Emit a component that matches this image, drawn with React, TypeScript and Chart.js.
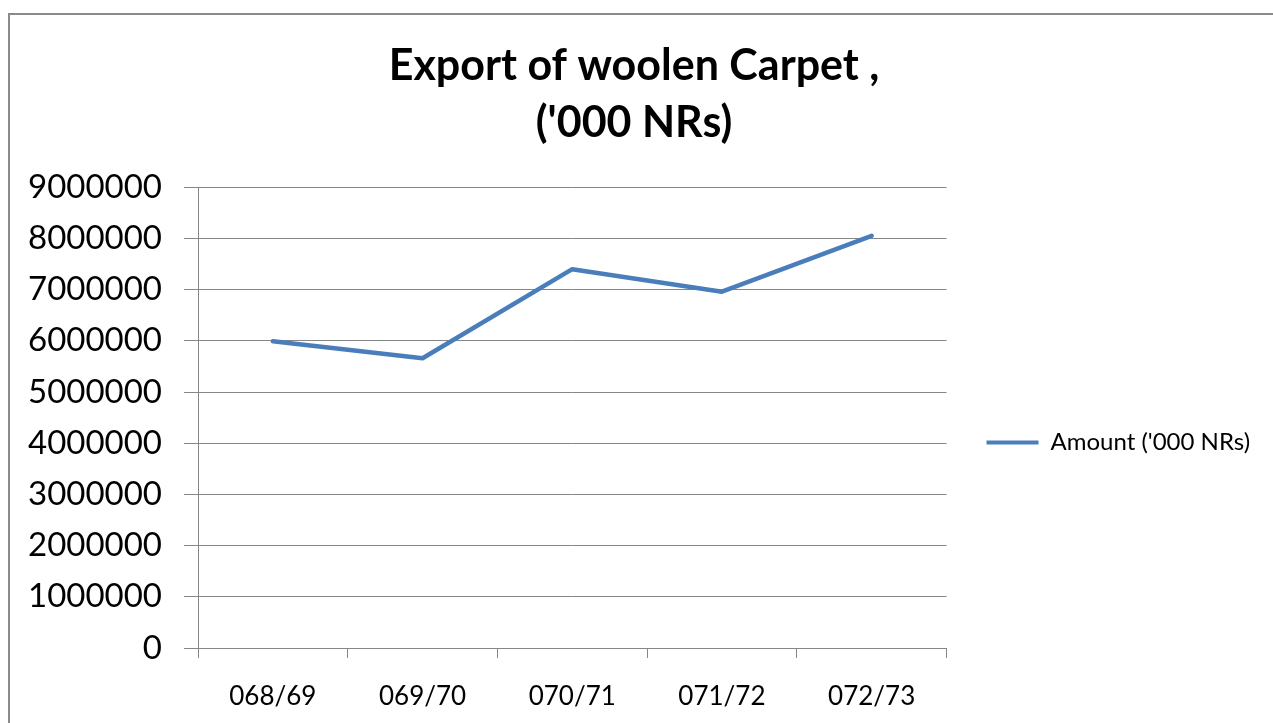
import React, { useEffect, useRef } from 'react';
import { Chart, registerables } from 'chart.js';

Chart.register(...registerables);

const categories = ['068/69', '069/70', '070/71', '071/72', '072/73'];
const amounts = [5990000, 5660000, 7400000, 6960000, 8050000];
const seriesLabel = "Amount ('000 NRs)";
const titleLines = ['Export of woolen Carpet ,', "('000 NRs)"];
const yMin = 0;
const yMax = 9000000;
const yStep = 1000000;

const LINE_COLOR = '#4a7ebb';
const GRID_COLOR = '#868686';
const FONT = 'Lato';

export default function App() {
  const ref = useRef<HTMLCanvasElement | null>(null);

  useEffect(() => {
    if (!ref.current) return;

    const framePlugin = {
      id: 'frame',
      beforeDraw(chart: any) {
        const ctx = chart.ctx;
        ctx.save();
        ctx.fillStyle = '#ffffff';
        ctx.fillRect(0, 0, chart.width, chart.height);
        ctx.strokeStyle = '#8a8a8a';
        ctx.lineWidth = 2;
        ctx.strokeRect(9, 14, chart.width + 50, chart.height + 50);
        ctx.restore();
      },
    };

    const legendShift = {
      id: 'legendShift',
      afterLayout(chart: any) {
        const lg = chart.legend;
        if (lg) {
          lg.top += 25;
          lg.bottom += 25;
        }
      },
    };

    const chart = new Chart(ref.current, {
      type: 'line',
      data: {
        labels: categories,
        datasets: [
          {
            label: seriesLabel,
            data: amounts,
            borderColor: LINE_COLOR,
            backgroundColor: LINE_COLOR,
            borderWidth: 4.5,
            borderCapStyle: 'round',
            borderJoinStyle: 'round',
            pointRadius: 0,
            tension: 0,
            fill: false,
          },
        ],
      },
      options: {
        animation: false,
        responsive: true,
        maintainAspectRatio: false,
        events: [],
        layout: { padding: { left: 9, right: 14, top: 14, bottom: 0 } },
        plugins: {
          title: {
            display: true,
            text: titleLines,
            color: '#000',
            font: { family: FONT, size: 43, weight: 'bold', lineHeight: 1.34 },
            padding: { top: 23, bottom: 35 },
          },
          legend: {
            position: 'right',
            fullSize: false,
            labels: {
              color: '#000',
              font: { family: FONT, size: 24 },
              boxWidth: 52,
              boxHeight: 4,
              padding: 40,
              generateLabels: (c: any) =>
                Chart.defaults.plugins.legend.labels
                  .generateLabels(c)
                  .map((l: any) => ({ ...l, lineWidth: 0, fillStyle: LINE_COLOR })),
            },
          },
          tooltip: { enabled: false },
        },
        scales: {
          x: {
            offset: true,
            grid: {
              offset: true,
              drawOnChartArea: false,
              drawTicks: true,
              tickLength: 10,
              color: GRID_COLOR,
            },
            border: { color: GRID_COLOR },
            ticks: {
              color: '#000',
              font: { family: FONT, size: 26 },
              padding: 23,
              maxRotation: 0,
              autoSkip: false,
            },
            afterFit: (s: any) => {
              s.height = 75;
            },
          },
          y: {
            min: yMin,
            max: yMax,
            ticks: {
              stepSize: yStep,
              color: '#000',
              font: { family: FONT, size: 33 },
              padding: 22,
              callback: (v: any) => String(v),
            },
            grid: { color: GRID_COLOR, tickLength: 14 },
            border: { color: GRID_COLOR },
            afterFit: (s: any) => {
              s.width = 189;
            },
          },
        },
      } as any,
      plugins: [framePlugin, legendShift],
    });

    return () => chart.destroy();
  }, []);

  return (
    <div style={{ position: 'absolute', left: 0, top: 0, width: 1273, height: 723 }}>
      <canvas ref={ref} />
    </div>
  );
}
